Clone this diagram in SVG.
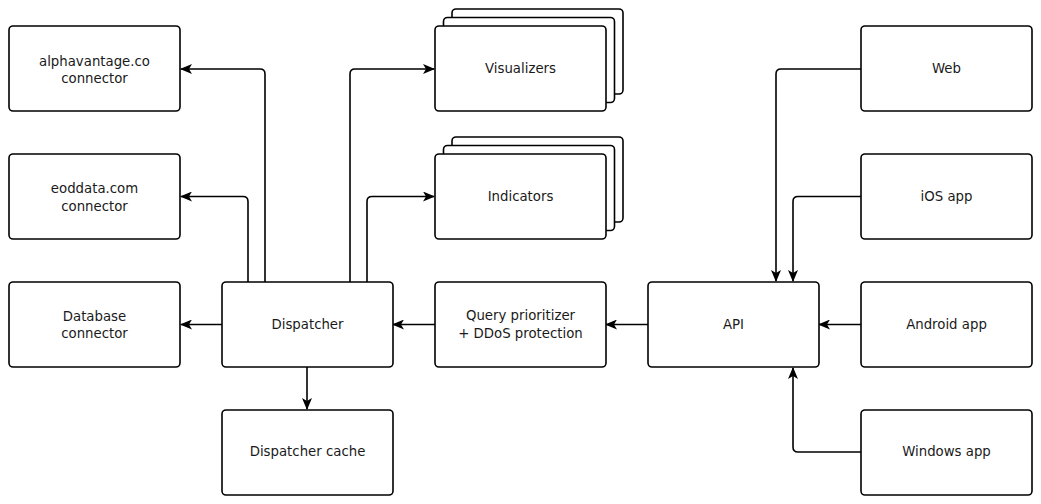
<svg xmlns="http://www.w3.org/2000/svg" width="1041" height="504" viewBox="0 0 1041 504">
<style>
.n rect{fill:#fff;stroke:#000;stroke-width:1.6}
.n text{font-family:"DejaVu Sans",Verdana,sans-serif;font-size:13.3px;fill:#1a1a1a;text-anchor:middle;dominant-baseline:central}
#edges path{fill:none;stroke:#000;stroke-width:1.6;marker-end:url(#arr)}
</style>
<defs>
<marker id="arr" viewBox="0 0 12 10" refX="11" refY="5" markerWidth="12" markerHeight="10" markerUnits="userSpaceOnUse" orient="auto">
<path d="M0,0 L12,5 L0,10 L3,5 Z" fill="#000"/>
</marker>
</defs>
<rect width="1041" height="504" fill="#fff"/>
<g id="edges">
<path d="M265,282 V74 Q265,69 260,69 H181"/>
<path d="M248,282 V201.5 Q248,196.5 243,196.5 H181"/>
<path d="M350,282 V74 Q350,69 355,69 H434"/>
<path d="M367,282 V201.5 Q367,196.5 372,196.5 H434"/>
<path d="M222,324.5 H181"/>
<path d="M307,367 V409"/>
<path d="M435,324.5 H393"/>
<path d="M648,324.5 H606"/>
<path d="M861,324.5 H819"/>
<path d="M861,69 H781 Q776,69 776,74 V281"/>
<path d="M861,196.5 H798 Q793,196.5 793,201.5 V281"/>
<path d="M861,452 H798 Q793,452 793,447 V368"/>
</g>
<g id="alphavantage" class="n"><rect x="9" y="26" width="171" height="85" rx="4"/><text x="94.5" y="61">alphavantage.co</text><text x="94.5" y="78.5">connector</text></g>
<g id="eoddata" class="n"><rect x="9" y="154" width="171" height="85" rx="4"/><text x="94.5" y="188.5">eoddata.com</text><text x="94.5" y="206">connector</text></g>
<g id="database" class="n"><rect x="9" y="282" width="171" height="85" rx="4"/><text x="94.5" y="316">Database</text><text x="94.5" y="333.5">connector</text></g>
<g id="dispatcher" class="n"><rect x="222" y="282" width="171" height="85" rx="4"/><text x="307.5" y="324">Dispatcher</text></g>
<g id="dispatcher-cache" class="n"><rect x="222" y="410" width="171" height="85" rx="4"/><text x="307.5" y="451">Dispatcher cache</text></g>
<g id="visualizers" class="n"><rect x="452" y="9" width="171" height="85" rx="4"/><rect x="443.5" y="17.5" width="171" height="85" rx="4"/><rect x="435" y="26" width="171" height="85" rx="4"/><text x="520.5" y="68.5">Visualizers</text></g>
<g id="indicators" class="n"><rect x="452" y="137" width="171" height="85" rx="4"/><rect x="443.5" y="145.5" width="171" height="85" rx="4"/><rect x="435" y="154" width="171" height="85" rx="4"/><text x="520.5" y="196">Indicators</text></g>
<g id="query" class="n"><rect x="435" y="282" width="171" height="85" rx="4"/><text x="520.5" y="315.5">Query prioritizer</text><text x="520.5" y="333">+ DDoS protection</text></g>
<g id="api" class="n"><rect x="648" y="282" width="171" height="85" rx="4"/><text x="733.5" y="324">API</text></g>
<g id="web" class="n"><rect x="861" y="26" width="171" height="85" rx="4"/><text x="946.5" y="68.5">Web</text></g>
<g id="ios" class="n"><rect x="861" y="154" width="171" height="85" rx="4"/><text x="946.5" y="196">iOS app</text></g>
<g id="android" class="n"><rect x="861" y="282" width="171" height="85" rx="4"/><text x="946.5" y="324">Android app</text></g>
<g id="windows" class="n"><rect x="861" y="410" width="171" height="85" rx="4"/><text x="946.5" y="451">Windows app</text></g>
</svg>
